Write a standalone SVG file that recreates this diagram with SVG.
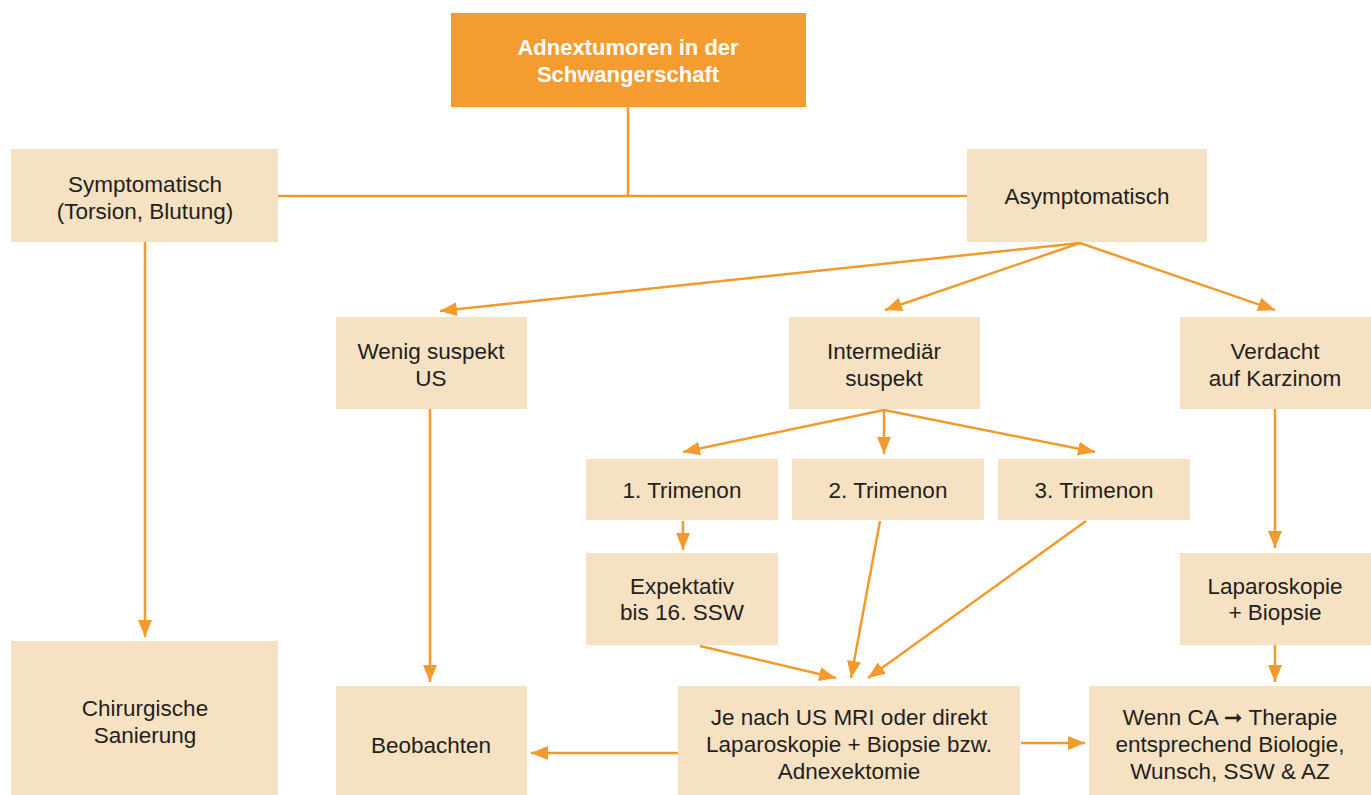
<svg xmlns="http://www.w3.org/2000/svg" width="1371" height="795" viewBox="0 0 1371 795">
<defs>
<style>
.box{fill:#F6E1C2}
.top{fill:#F59C30}
.t{font-family:"Liberation Sans","DejaVu Sans",sans-serif;font-size:22.5px;fill:#231F20;text-anchor:middle}
.tb{font-family:"Liberation Sans","DejaVu Sans",sans-serif;font-size:22px;font-weight:bold;fill:#FFFFFF;text-anchor:middle}
.c{stroke:#F39A2E;stroke-width:2.5;fill:none}
.a{marker-end:url(#ah)}
</style>
<marker id="ah" markerUnits="userSpaceOnUse" markerWidth="18" markerHeight="16" viewBox="0 0 18 16" refX="17" refY="8" orient="auto">
<path d="M0,1 L17,8 L0,15 Z" fill="#F39A2E"/>
</marker>
</defs>
<rect width="1371" height="795" fill="#FFFFFF"/>
<g id="connectors">
<line class="c" x1="628" y1="107" x2="628" y2="196"/>
<line class="c" x1="278" y1="196" x2="967" y2="196"/>
<line class="c a" x1="145" y1="242" x2="145" y2="637"/>
<line class="c a" x1="1080" y1="243" x2="440" y2="311"/>
<line class="c a" x1="1080" y1="243" x2="885" y2="310"/>
<line class="c a" x1="1080" y1="243" x2="1275" y2="310"/>
<line class="c a" x1="430" y1="409" x2="430" y2="682"/>
<line class="c a" x1="884" y1="410" x2="683" y2="452"/>
<line class="c a" x1="884" y1="410" x2="884" y2="454"/>
<line class="c a" x1="884" y1="410" x2="1095" y2="452"/>
<line class="c a" x1="1275" y1="409" x2="1275" y2="548"/>
<line class="c a" x1="683" y1="521" x2="683" y2="550"/>
<line class="c a" x1="700" y1="646" x2="836" y2="678"/>
<line class="c a" x1="880" y1="521" x2="851" y2="678"/>
<line class="c a" x1="1086" y1="521" x2="868" y2="678"/>
<line class="c a" x1="1275" y1="645" x2="1275" y2="682"/>
<line class="c a" x1="678" y1="753" x2="531" y2="753"/>
<line class="c a" x1="1021" y1="743" x2="1085" y2="743"/>
</g>
<g id="n-title"><rect class="top" x="451" y="13" width="355" height="94"/>
<text class="tb" x="628" y="55">Adnextumoren in der</text>
<text class="tb" x="628" y="82">Schwangerschaft</text></g>
<g id="n-sympt"><rect class="box" x="11" y="149" width="267" height="93"/>
<text class="t" x="145" y="192">Symptomatisch</text>
<text class="t" x="145" y="219">(Torsion, Blutung)</text></g>
<g id="n-asympt"><rect class="box" x="967" y="149" width="240" height="93"/>
<text class="t" x="1087" y="204">Asymptomatisch</text></g>
<g id="n-wenig"><rect class="box" x="336" y="317" width="191" height="92"/>
<text class="t" x="431" y="359">Wenig suspekt</text>
<text class="t" x="431" y="386">US</text></g>
<g id="n-inter"><rect class="box" x="789" y="317" width="191" height="92"/>
<text class="t" x="884" y="359">Intermediär</text>
<text class="t" x="884" y="386">suspekt</text></g>
<g id="n-verdacht"><rect class="box" x="1180" y="317" width="191" height="92"/>
<text class="t" x="1275" y="359">Verdacht</text>
<text class="t" x="1275" y="386">auf Karzinom</text></g>
<g id="n-tri1"><rect class="box" x="586" y="459" width="192" height="61"/>
<text class="t" x="682" y="498">1. Trimenon</text></g>
<g id="n-tri2"><rect class="box" x="792" y="459" width="192" height="61"/>
<text class="t" x="888" y="498">2. Trimenon</text></g>
<g id="n-tri3"><rect class="box" x="998" y="459" width="192" height="61"/>
<text class="t" x="1094" y="498">3. Trimenon</text></g>
<g id="n-expektativ"><rect class="box" x="586" y="553" width="192" height="92"/>
<text class="t" x="682" y="594">Expektativ</text>
<text class="t" x="682" y="620">bis 16. SSW</text></g>
<g id="n-lap"><rect class="box" x="1180" y="553" width="191" height="92"/>
<text class="t" x="1275" y="594">Laparoskopie</text>
<text class="t" x="1275" y="620">+ Biopsie</text></g>
<g id="n-chir"><rect class="box" x="11" y="641" width="267" height="154"/>
<text class="t" x="145" y="716">Chirurgische</text>
<text class="t" x="145" y="743">Sanierung</text></g>
<g id="n-beob"><rect class="box" x="336" y="686" width="191" height="109"/>
<text class="t" x="431" y="753">Beobachten</text></g>
<g id="n-jenach"><rect class="box" x="678" y="686" width="342" height="109"/>
<text class="t" x="849" y="725">Je nach US MRI oder direkt</text>
<text class="t" x="849" y="752">Laparoskopie + Biopsie bzw.</text>
<text class="t" x="849" y="779">Adnexektomie</text></g>
<g id="n-wenn"><rect class="box" x="1089" y="686" width="282" height="109"/>
<text class="t" x="1230" y="725">Wenn CA ➞ Therapie</text>
<text class="t" x="1230" y="752">entsprechend Biologie,</text>
<text class="t" x="1230" y="779">Wunsch, SSW &amp; AZ</text></g>
</svg>
